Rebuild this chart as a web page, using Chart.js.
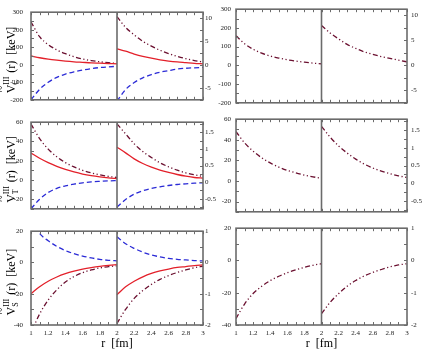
<!DOCTYPE html>
<html>
<head>
<meta charset="utf-8">
<script src="https://cdn.jsdelivr.net/npm/chart.js@4.4.1/dist/chart.umd.min.js"></script>
<style>
  html, body { margin: 0; padding: 0; background: #fff; }
  body { width: 425px; height: 351px; position: relative; overflow: hidden; }
  canvas { position: absolute; }
</style>
</head>
<body>
<canvas id="lc"></canvas>
<canvas id="lt"></canvas>
<canvas id="ls"></canvas>
<canvas id="rc"></canvas>
<canvas id="rt"></canvas>
<canvas id="rs"></canvas>
<script>
// r grid of each half panel
const rIn  = [1.0, 1.1, 1.2, 1.3, 1.4, 1.5, 1.6, 1.7, 1.8, 1.9, 2.0];
const rOut = [2.0, 2.1, 2.2, 2.3, 2.4, 2.5, 2.6, 2.7, 2.8, 2.9, 3.0];

// left block, V_C (keV)  -- "In" on left axis, "Out" on right axis
const cRedIn  = [50, 40, 32, 26, 21, 17, 14, 11, 9, 7, 5];
const cBlueIn = [-200, -140, -100, -72, -53, -40, -30, -22, -16, -12, -9];
const cDotIn  = [245, 160, 115, 85, 63, 46, 33, 24, 17, 12, 8];
const cRedOut  = [3.4, 2.9, 2.3, 1.8, 1.4, 1.05, 0.8, 0.6, 0.45, 0.3, 0.2];
const cBlueOut = [-7.8, -5.3, -3.8, -2.8, -2.1, -1.6, -1.25, -0.9, -0.75, -0.65, -0.55];
const cDotOut  = [10.3, 8.0, 6.4, 5.0, 4.0, 3.1, 2.4, 1.8, 1.3, 0.9, 0.6];

// left block, V_T
const tRedIn  = [28, 22.5, 18, 14.2, 11, 8.3, 6.1, 4.4, 3.1, 2.1, 1.4];
const tBlueIn = [-30, -20, -13, -8.8, -6.2, -4.3, -3.0, -2.1, -1.5, -1.0, -0.6];
const tDotIn  = [58, 43, 32, 24, 18, 13.5, 10, 7.3, 5.3, 3.7, 2.5];
const tRedOut  = [1.05, 0.88, 0.7, 0.56, 0.45, 0.36, 0.29, 0.23, 0.18, 0.14, 0.12];
const tBlueOut = [-0.75, -0.52, -0.36, -0.26, -0.19, -0.14, -0.1, -0.07, -0.05, -0.03, -0.02];
const tDotOut  = [1.75, 1.45, 1.15, 0.92, 0.74, 0.58, 0.46, 0.36, 0.28, 0.22, 0.17];

// left block, V_S
const sRedIn  = [-20, -15.5, -12, -9.3, -7.2, -5.6, -4.3, -3.3, -2.5, -1.9, -1.4];
const sBlueIn = [27, 18.5, 13.9, 10.3, 7.6, 5.6, 4.1, 2.9, 2.0, 1.4, 1.0];
const sDotIn  = [-45, -33, -24, -17.5, -12.5, -9, -6.5, -4.8, -3.5, -2.7, -2.1];
const sRedOut  = [-1.03, -0.78, -0.6, -0.46, -0.35, -0.27, -0.21, -0.16, -0.13, -0.1, -0.08];
const sBlueOut = [0.82, 0.6, 0.45, 0.33, 0.24, 0.18, 0.13, 0.1, 0.08, 0.06, 0.05];
const sDotOut  = [-1.95, -1.5, -1.15, -0.9, -0.7, -0.54, -0.42, -0.32, -0.24, -0.17, -0.12];

// right block, single curve per panel
const cOnlyIn  = [158, 116, 86, 65, 50, 39, 30, 23, 17, 12, 8];
const cOnlyOut = [8.0, 6.5, 5.3, 4.2, 3.4, 2.7, 2.2, 1.75, 1.4, 1.05, 0.7];
const tOnlyIn  = [48, 37, 29, 22.5, 17.5, 13.5, 10.3, 7.8, 5.7, 4.0, 2.5];
const tOnlyOut = [1.6, 1.3, 1.05, 0.85, 0.68, 0.54, 0.43, 0.34, 0.27, 0.21, 0.16];
const sOnlyIn  = [-36, -27, -20.5, -16, -12.5, -9.8, -7.6, -5.8, -4.3, -3, -2];
const sOnlyOut = [-1.65, -1.3, -1.03, -0.8, -0.62, -0.48, -0.37, -0.28, -0.2, -0.14, -0.1];

// tick labels
const rTicks  = [1, 1.2, 1.4, 1.6, 1.8, 2, 2.2, 2.4, 2.6, 2.8, 3];
const cTicks  = [-200, -100, 0, 100, 200, 300];
const cTicks2 = [-5, 0, 5, 10];
const tTicks  = [-20, 0, 20, 40, 60];
const tTicks2 = [-0.5, 0, 0.5, 1, 1.5];
const sTicks  = [-40, -20, 0, 20];
const sTicks2 = [-2, -1, 0, 1];

const FONT = '"Liberation Serif", "DejaVu Serif", serif';
const RED = '#e3202a', BLUE = '#2b2bd6', DOT = '#6b1030';
const FRAME = '#6b6b6b';

function pts(xs, ys) {
    return xs.map((x, i) => ({x: x, y: ys[i]}));
}

function line(xs, ys, color, axis, dash) {
    return {
        data: pts(xs, ys),
        yAxisID: axis,
        borderColor: color,
        borderWidth: 1.3,
        borderDash: dash || [],
        pointRadius: 0,
        fill: false,
        cubicInterpolationMode: 'monotone'
    };
}

// inward tick marks, panel frame and the r=2 divider
const framePlugin = {
    id: 'framePlugin',
    afterDatasetsDraw(chart, args, opts) {
        const {ctx, chartArea: a, scales} = chart;
        ctx.save();
        ctx.strokeStyle = FRAME;
        ctx.lineWidth = 1;
        const marks = (scale, step, draw) => {
            const n0 = Math.ceil(scale.min / step - 1e-9);
            const n1 = Math.floor(scale.max / step + 1e-9);
            for (let n = n0; n <= n1; n++) {
                draw(Math.round(scale.getPixelForValue(n * step)) + 0.5);
            }
        };
        ctx.beginPath();
        marks(scales.x, 0.1, p => {
            ctx.moveTo(p, a.top); ctx.lineTo(p, a.top + 3);
            ctx.moveTo(p, a.bottom); ctx.lineTo(p, a.bottom - 3);
        });
        marks(scales.y, opts.minor, p => {
            ctx.moveTo(a.left, p); ctx.lineTo(a.left + 3, p);
        });
        marks(scales.y2, opts.minor2, p => {
            ctx.moveTo(a.right, p); ctx.lineTo(a.right - 3, p);
        });
        ctx.stroke();

        ctx.lineWidth = 1.6;
        ctx.strokeRect(a.left, a.top, a.width, a.height);
        const xm = scales.x.getPixelForValue(2);
        ctx.beginPath();
        ctx.moveTo(xm, a.top);
        ctx.lineTo(xm, a.bottom);
        ctx.stroke();

        if (opts.sub) {
            drawYTitle(ctx, 15, (a.top + a.bottom) / 2 + 4, opts.sub);
        }
        ctx.restore();
    }
};

function drawYTitle(ctx, x, y, sub) {
    ctx.save();
    ctx.translate(x, y);
    ctx.rotate(-Math.PI / 2);
    ctx.fillStyle = '#000';
    ctx.textBaseline = 'alphabetic';
    const big = '12px ' + FONT, small = '8px ' + FONT;
    const rest = ' (r)  [keV]';
    ctx.font = big;
    const wV = ctx.measureText('V').width;
    const wRest = ctx.measureText(rest).width;
    ctx.font = small;
    const wSup = Math.max(ctx.measureText('III').width, ctx.measureText(sub).width);
    let u = -(wV + wSup + 1 + wRest) / 2;
    ctx.font = big;
    ctx.textAlign = 'left';
    ctx.fillText('V', u, 0);
    ctx.textAlign = 'center';
    ctx.fillText('~', u + wV / 2, -10);
    ctx.textAlign = 'left';
    u += wV;
    ctx.font = small;
    ctx.fillText('III', u, -6);
    ctx.fillText(sub, u, 3);
    u += wSup + 1;
    ctx.font = big;
    ctx.fillText(rest, u, 0);
    ctx.restore();
}

const blocks = {
    left:  {left: 0,   width: 230, yW: 31, y2W: 27, padL: 8, padR: 2},
    right: {left: 208, width: 217, yW: 28, y2W: 18, padL: 5, padR: 4}
};
const rows = {
    c: {top: 0,   height: 112, hx: 5,  showX: false, min: -200, max: 300, min2: -7.5, max2: 11.25,
        ticks: cTicks, ticks2: cTicks2, minor: 50, minor2: 2.5, sub: 'C'},
    t: {top: 110, height: 111, hx: 5,  showX: false, min: -30, max: 60, min2: -0.8, max2: 1.8,
        ticks: tTicks, ticks2: tTicks2, minor: 10, minor2: 0.25, sub: 'T'},
    s: {top: 219, height: 132, hx: 26, showX: true,  min: -40, max: 20, min2: -2, max2: 1,
        ticks: sTicks, ticks2: sTicks2, minor: 10, minor2: 0.5, sub: 'S'}
};

function makeChart(id, block, row, datasets, withTitle) {
    const cv = document.getElementById(id);
    cv.width = block.width;
    cv.height = row.height;
    cv.style.left = block.left + 'px';
    cv.style.top = row.top + 'px';
    cv.style.width = block.width + 'px';
    cv.style.height = row.height + 'px';
    const tickFont = {family: FONT, size: 7};
    const label = v => String(v);

    return new Chart(cv, {
        type: 'line',
        data: {datasets: datasets},
        options: {
            responsive: false,
            animation: false,
            events: [],
            layout: {padding: {top: 7, left: 0, right: 0, bottom: 0}},
            plugins: {
                legend: {display: false},
                tooltip: {enabled: false},
                framePlugin: {minor: row.minor, minor2: row.minor2, sub: withTitle ? row.sub : null}
            },
            scales: {
                x: {
                    type: 'linear', min: 1, max: 3,
                    afterBuildTicks: s => { s.ticks = rTicks.map(v => ({value: v})); },
                    afterFit: s => { s.height = row.hx; },
                    grid: {display: false, drawTicks: false},
                    border: {display: false},
                    ticks: {display: row.showX, autoSkip: false, maxRotation: 0, padding: 4,
                            font: tickFont, color: '#222', callback: label},
                    title: {display: row.showX, text: 'r  [fm]', color: '#000',
                            font: {family: FONT, size: 12}, padding: {top: 0, bottom: 0}}
                },
                y: {
                    position: 'left', min: row.min, max: row.max,
                    afterBuildTicks: s => { s.ticks = row.ticks.map(v => ({value: v})); },
                    afterFit: s => { s.width = block.yW; },
                    grid: {display: false, drawTicks: false},
                    border: {display: false},
                    ticks: {padding: block.padL, font: tickFont, color: '#222', callback: label}
                },
                y2: {
                    position: 'right', min: row.min2, max: row.max2,
                    afterBuildTicks: s => { s.ticks = row.ticks2.map(v => ({value: v})); },
                    afterFit: s => { s.width = block.y2W; },
                    grid: {display: false, drawTicks: false},
                    border: {display: false},
                    ticks: {padding: block.padR, font: tickFont, color: '#222', callback: label}
                }
            }
        },
        plugins: [framePlugin]
    });
}

const DASH = [5, 3];
const DASHDOT = [5, 2.5, 1.2, 2.5, 1.2, 2.5];

makeChart('lc', blocks.left, rows.c, [
    line(rIn, cRedIn, RED, 'y'), line(rIn, cBlueIn, BLUE, 'y', DASH), line(rIn, cDotIn, DOT, 'y', DASHDOT),
    line(rOut, cRedOut, RED, 'y2'), line(rOut, cBlueOut, BLUE, 'y2', DASH), line(rOut, cDotOut, DOT, 'y2', DASHDOT)
], true);
makeChart('lt', blocks.left, rows.t, [
    line(rIn, tRedIn, RED, 'y'), line(rIn, tBlueIn, BLUE, 'y', DASH), line(rIn, tDotIn, DOT, 'y', DASHDOT),
    line(rOut, tRedOut, RED, 'y2'), line(rOut, tBlueOut, BLUE, 'y2', DASH), line(rOut, tDotOut, DOT, 'y2', DASHDOT)
], true);
makeChart('ls', blocks.left, rows.s, [
    line(rIn, sRedIn, RED, 'y'), line(rIn, sBlueIn, BLUE, 'y', DASH), line(rIn, sDotIn, DOT, 'y', DASHDOT),
    line(rOut, sRedOut, RED, 'y2'), line(rOut, sBlueOut, BLUE, 'y2', DASH), line(rOut, sDotOut, DOT, 'y2', DASHDOT)
], true);

makeChart('rc', blocks.right, rows.c, [
    line(rIn, cOnlyIn, DOT, 'y', DASHDOT), line(rOut, cOnlyOut, DOT, 'y2', DASHDOT)
], false);
makeChart('rt', blocks.right, rows.t, [
    line(rIn, tOnlyIn, DOT, 'y', DASHDOT), line(rOut, tOnlyOut, DOT, 'y2', DASHDOT)
], false);
makeChart('rs', blocks.right, rows.s, [
    line(rIn, sOnlyIn, DOT, 'y', DASHDOT), line(rOut, sOnlyOut, DOT, 'y2', DASHDOT)
], false);
</script>
</body>
</html>
